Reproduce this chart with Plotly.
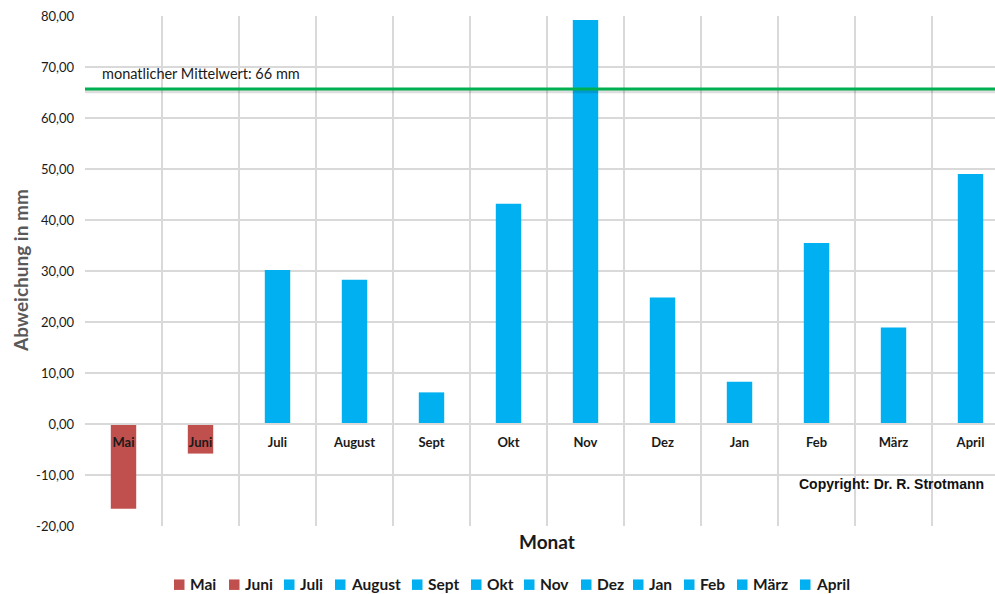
import plotly.graph_objects as go

months = ["Mai", "Juni", "Juli", "August", "Sept", "Okt", "Nov", "Dez", "Jan", "Feb", "März", "April"]
values = [-16.6, -5.8, 30.2, 28.3, 6.2, 43.2, 79.2, 24.8, 8.3, 35.5, 18.9, 49.0]
mean_value = 65.7
mean_label = "monatlicher Mittelwert: 66 mm"
y_ticks = [-20, -10, 0, 10, 20, 30, 40, 50, 60, 70, 80]
y_tick_labels = ["%.2f" % t for t in y_ticks]
y_tick_labels = [s.replace(".", ",") for s in y_tick_labels]

RED = "#C0504D"
BLUE = "#00B0F0"
FONT = "Lato, Calibri, sans-serif"

# legend key left edges in pixels (compact legend as in the original)
legend_px = [174, 229, 284, 335, 412, 471, 524, 581, 633, 684, 737, 800]


def px_x(p):
    return (p - 85) / 910


def px_y(p):
    return (526.5 - p) / 510.5


fig = go.Figure()
for m, v in zip(months, values):
    fig.add_trace(go.Bar(
        x=[m], y=[v], name=m, width=0.33, showlegend=False,
        marker=dict(color=RED if v < 0 else BLUE, line=dict(width=0)),
    ))

# legend drawn as keys + labels
for m, v, lx in zip(months, values, legend_px):
    fig.add_shape(type="rect", xref="paper", yref="paper",
                  x0=px_x(lx), x1=px_x(lx + 10.5), y0=px_y(590.5), y1=px_y(580),
                  fillcolor=RED if v < 0 else BLUE, line=dict(width=0))
    fig.add_annotation(text="<b>" + m + "</b>", xref="paper", yref="paper",
                       x=px_x(lx + 13.5), y=px_y(585), xanchor="left", yanchor="middle",
                       showarrow=False, font=dict(family=FONT, size=15.5, color="#1a1a1a"))

# mean line with soft shadow
fig.add_shape(type="line", xref="paper", yref="y", x0=0, x1=1,
              y0=mean_value - 0.45, y1=mean_value - 0.45,
              line=dict(color="rgba(0,0,0,0.13)", width=4), layer="above")
fig.add_shape(type="line", xref="paper", yref="y", x0=0, x1=1,
              y0=mean_value, y1=mean_value,
              line=dict(color="#00B050", width=3), layer="above")

fig.add_annotation(text=mean_label, xref="paper", yref="y", x=px_x(100), y=68.8,
                   xanchor="left", yanchor="middle", showarrow=False,
                   font=dict(family=FONT, size=14.5, color="#1a1a1a"))
fig.add_annotation(text="<b>Copyright: Dr. R. Strotmann</b>", xref="paper", yref="paper",
                   x=px_x(986), y=px_y(484), xanchor="right", yanchor="middle",
                   showarrow=False, font=dict(family="Liberation Sans, Arial", size=14, color="#111111"))
fig.add_annotation(text="<b>Monat</b>", xref="paper", yref="paper",
                   x=px_x(547), y=px_y(542), xanchor="center", yanchor="middle",
                   showarrow=False, font=dict(family=FONT, size=19, color="#1a1a1a"))
fig.add_annotation(text="<b>Abweichung in mm</b>", xref="paper", yref="paper",
                   x=px_x(20), y=0.5, xanchor="center", yanchor="middle", textangle=-90,
                   showarrow=False, font=dict(family=FONT, size=19, color="#595959"))

fig.update_layout(
    width=995, height=594,
    margin=dict(l=85, r=0, t=16, b=67.5, autoexpand=False),
    paper_bgcolor="white", plot_bgcolor="white",
    barmode="overlay",
    font=dict(family=FONT, color="#1a1a1a"),
    showlegend=False,
    xaxis=dict(
        type="category", range=[-0.5, 11.318],
        tickson="boundaries", showgrid=True, gridcolor="#d9d9d9", gridwidth=1.5,
        ticks="", showline=True, linecolor="#d9d9d9", linewidth=1.5,
        anchor="free", position=0.2,
        tickfont=dict(family=FONT, size=13, color="#1a1a1a", weight="bold"),
        ticklabelstandoff=7,
        fixedrange=True,
    ),
    yaxis=dict(
        range=[-20, 80], tickmode="array", tickvals=y_ticks, ticktext=y_tick_labels,
        showgrid=True, gridcolor="#d9d9d9", gridwidth=1.5,
        zeroline=False, showline=False, ticks="",
        tickfont=dict(family=FONT, size=13, color="#1a1a1a"),
        ticklabelstandoff=10,
    ),
)

fig.write_html("out.html")
